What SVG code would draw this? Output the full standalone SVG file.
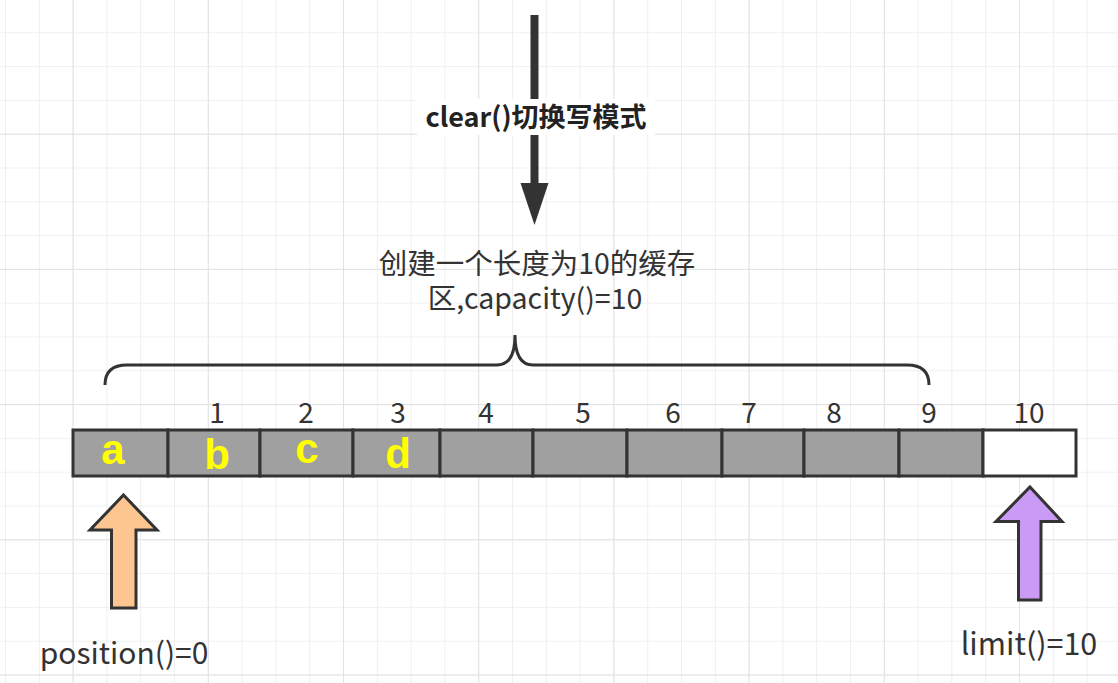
<svg xmlns="http://www.w3.org/2000/svg" width="1118" height="683" viewBox="0 0 1118 683">
<defs>
<pattern id="grid" x="5" y="-1.5" width="33.8" height="33.8" patternUnits="userSpaceOnUse">
<path d="M0,0 V33.8 M0,0 H33.8" fill="none" stroke="#ececec" stroke-width="1.6"/>
</pattern>
<pattern id="major" x="72.6" y="-1.5" width="135.2" height="135.2" patternUnits="userSpaceOnUse">
<path d="M0,0 V135.2 M0,0 H135.2" fill="none" stroke="#e2e2e2" stroke-width="1.8"/>
</pattern>
<style>
.cell{fill:#a0a0a0;stroke:#333;stroke-width:3}
.idx{font-family:"Noto Sans CJK SC","Liberation Sans",sans-serif;font-size:28px;fill:#333;text-anchor:middle}
.let{font-family:"Liberation Sans","Noto Sans",sans-serif;font-weight:bold;font-size:42px;fill:#ffff00;text-anchor:middle}
.lbl{font-family:"Noto Sans CJK SC","Liberation Sans",sans-serif;font-size:28.5px;fill:#333;text-anchor:middle}
.up{stroke:#333;stroke-width:3;stroke-linejoin:miter}
</style>
</defs>
<rect width="1118" height="683" fill="#ffffff"/>
<rect width="1118" height="683" fill="url(#grid)"/>
<rect width="1118" height="683" fill="url(#major)"/>
<g id="connectors">
<line x1="534.5" y1="15" x2="534.5" y2="185" stroke="#333" stroke-width="8"/>
<polygon points="520.5,183 548.5,183 534.5,225" fill="#333"/>
<rect x="417" y="99" width="238" height="36" fill="#ffffff"/>
<text x="536" y="127" font-family="Noto Sans CJK SC,Liberation Sans,sans-serif" font-weight="bold" font-size="27" fill="#222" text-anchor="middle">clear()切换写模式</text>
</g>
<g id="caption">
<text class="lbl" x="537" y="274">创建一个长度为10的缓存</text>
<text class="lbl" x="535" y="309">区,capacity()=10</text>
</g>
<g id="brace">
<path d="M105,385 Q105,365 127,365 L497,365 Q515,365 515,335 Q515,365 533,365 L907,365 Q929,365 929,385" fill="none" stroke="#333" stroke-width="3"/>
</g>
<g id="buffer">
<rect class="cell" x="73" y="430" width="95" height="46"/>
<rect class="cell" x="168" y="430" width="92" height="46"/>
<rect class="cell" x="260" y="430" width="93" height="46"/>
<rect class="cell" x="353" y="430" width="87" height="46"/>
<rect class="cell" x="440" y="430" width="93" height="46"/>
<rect class="cell" x="533" y="430" width="94" height="46"/>
<rect class="cell" x="627" y="430" width="95" height="46"/>
<rect class="cell" x="722" y="430" width="82" height="46"/>
<rect class="cell" x="804" y="430" width="95" height="46"/>
<rect class="cell" x="899" y="430" width="84" height="46"/>
<rect class="cell" x="983" y="430" width="93" height="46" style="fill:#ffffff"/>
<text class="let" x="113" y="464">a</text>
<text class="let" x="217" y="469">b</text>
<text class="let" x="307" y="463">c</text>
<text class="let" x="398" y="468">d</text>
</g>
<g id="indices">
<text class="idx" x="217" y="423">1</text>
<text class="idx" x="306" y="423">2</text>
<text class="idx" x="398" y="423">3</text>
<text class="idx" x="486" y="423">4</text>
<text class="idx" x="583" y="423">5</text>
<text class="idx" x="673" y="423">6</text>
<text class="idx" x="749" y="423">7</text>
<text class="idx" x="834" y="423">8</text>
<text class="idx" x="929" y="423">9</text>
<text class="idx" x="1029" y="423">10</text>
</g>
<g id="position">
<polygon class="up" points="123.5,495 157,530 136,530 136,608 111.5,608 111.5,530 90,530" fill="#fdc691"/>
<text class="lbl" x="124" y="664" style="font-size:30px">position()=0</text>
</g>
<g id="limit">
<polygon class="up" points="1030,487 1062,521.5 1041,521.5 1041,600 1018.5,600 1018.5,521.5 996,521.5" fill="#c99bf5"/>
<text class="lbl" x="1029" y="655" style="font-size:30.5px">limit()=10</text>
</g>
</svg>
